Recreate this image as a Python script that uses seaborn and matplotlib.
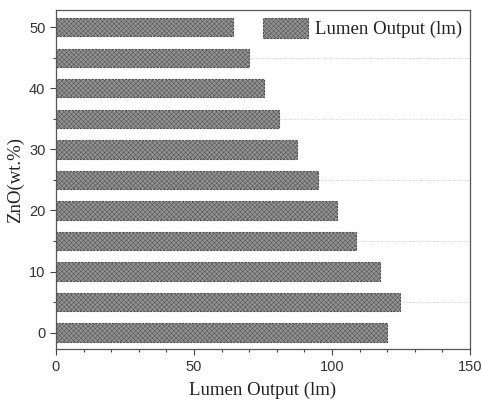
import matplotlib
matplotlib.use("Agg")
import matplotlib.pyplot as plt
import seaborn as sns
import pandas as pd
from matplotlib.ticker import MultipleLocator

zno = [0, 5, 10, 15, 20, 25, 30, 35, 40, 45, 50]
lumen = [119.9, 124.8, 117.5, 108.8, 102.0, 95.0, 87.2, 81.0, 75.5, 69.8, 64.3]

df = pd.DataFrame({"ZnO": zno, "Lumen": lumen})

sns.set_style("white")
plt.rcParams["hatch.linewidth"] = 0.35
plt.rcParams["hatch.color"] = "#7a7a7a"

fig = plt.figure(figsize=(4.82, 4.05), dpi=100)
ax = fig.add_axes([0.116, 0.138, 0.859, 0.837])

sns.barplot(data=df, x="Lumen", y="ZnO", orient="h", native_scale=True,
            width=0.6, color="#8e8e8e", saturation=1, ax=ax,
            label="Lumen Output (lm)")
for p in ax.patches:
    p.set_facecolor("#929292")
    p.set_edgecolor("#505050")
    p.set_linewidth(0.8)
    p.set_linestyle((0, (2, 1)))
    p.set_hatch("xxxxxxx")

for yv in [5, 15, 25, 35, 45]:
    ax.axhline(yv, color="#cfcfcf", lw=0.7, ls=(0, (1, 1.5)), zorder=0)

ax.set_xlim(0, 150)
ax.set_ylim(-2.7, 52.8)
ax.xaxis.set_major_locator(MultipleLocator(50))
ax.xaxis.set_minor_locator(MultipleLocator(10))
ax.yaxis.set_major_locator(MultipleLocator(10))
ax.yaxis.set_minor_locator(MultipleLocator(5))
ax.tick_params(axis="both", which="major", direction="out", length=4,
               width=0.8, color="#444444", labelsize=10.5, labelcolor="#333333",
               bottom=True, left=True)
ax.tick_params(axis="both", which="minor", direction="out", length=2.5,
               width=0.8, color="#444444", bottom=True, left=True)
for lab in ax.get_xticklabels() + ax.get_yticklabels():
    lab.set_family("Liberation Sans")
for s in ax.spines.values():
    s.set_visible(True)
    s.set_color("#555555")
    s.set_linewidth(0.9)

ax.set_xlabel("Lumen Output (lm)", family="Liberation Serif", fontsize=13.5,
              color="#222222", labelpad=6)
ax.set_ylabel("ZnO(wt.%)", family="Liberation Serif", fontsize=13.5,
              color="#222222", labelpad=4)

leg = ax.legend(loc="upper right", frameon=False,
                prop={"family": "Liberation Serif", "size": 13.5},
                handlelength=2.4, handleheight=1.3, handletextpad=0.4,
                borderaxespad=0.0)
for t in leg.get_texts():
    t.set_color("#222222")

fig.savefig("out.png", dpi=100)
